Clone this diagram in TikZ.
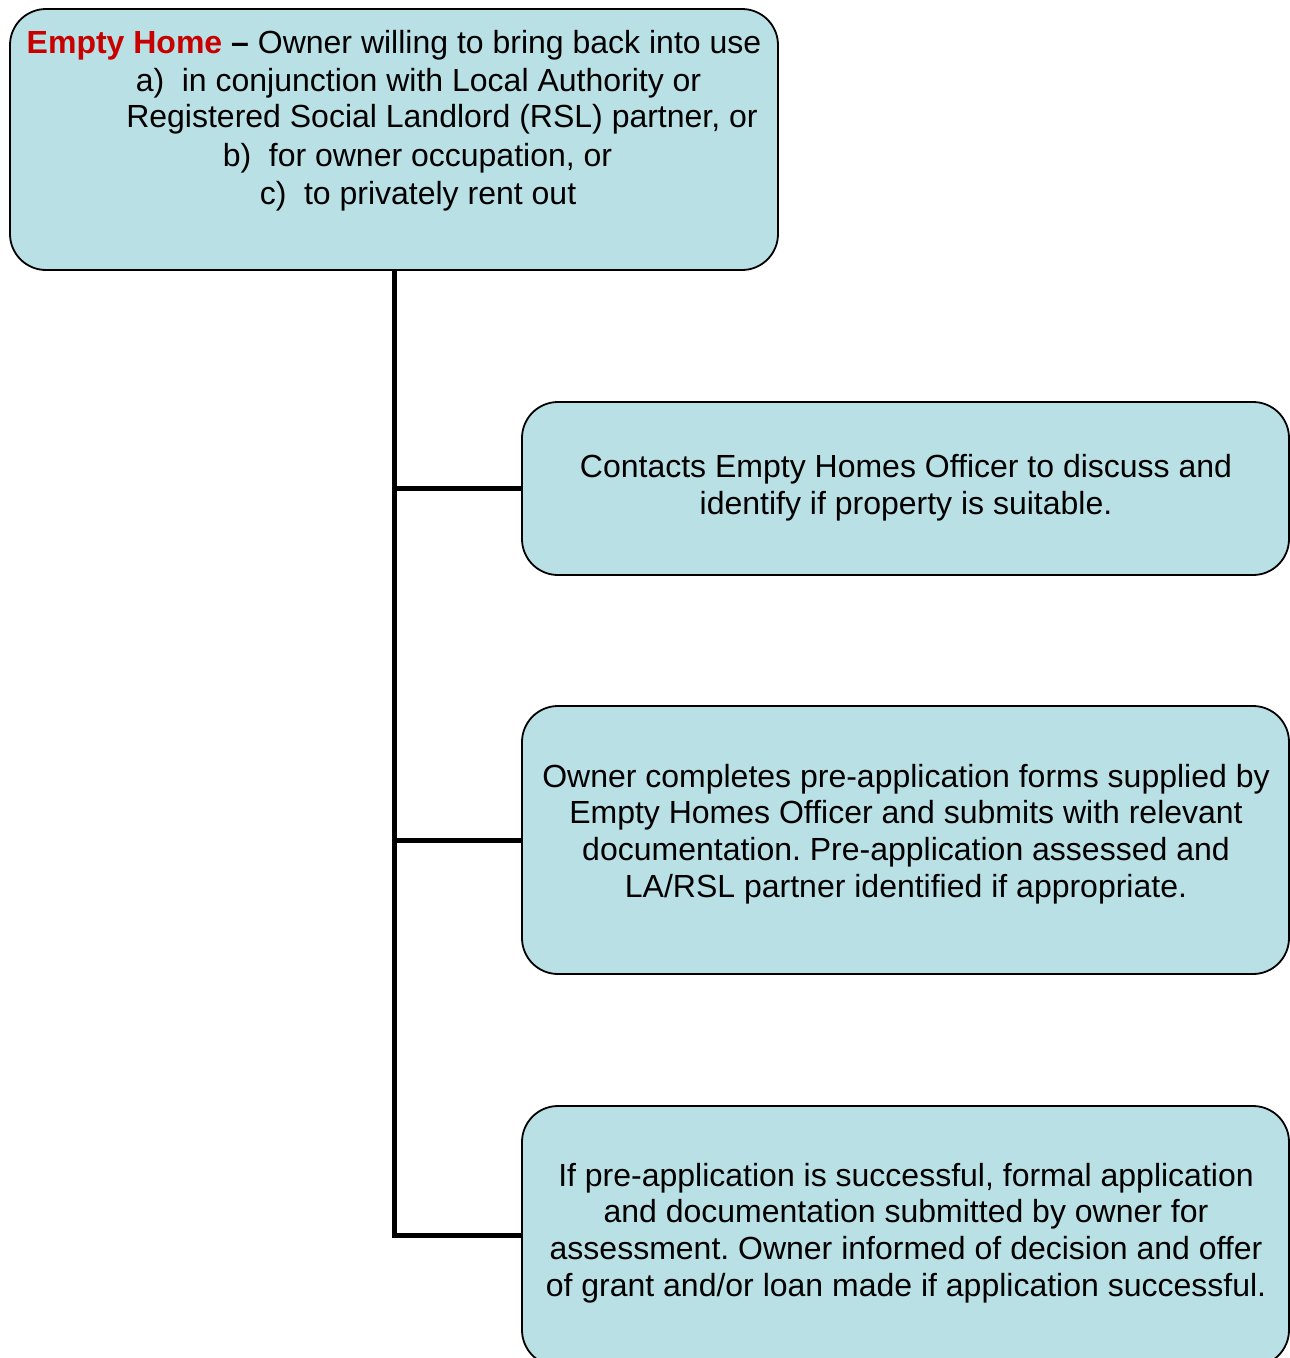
\documentclass[tikz,border=0pt]{standalone}
\usepackage{fontspec}
\setmainfont{Liberation Sans}
\frenchspacing
\definecolor{boxfill}{RGB}{185,224,228}
\definecolor{emred}{RGB}{200,0,0}
\tikzset{
  box/.style={draw=black, line width=1.8pt, fill=boxfill, rounded corners=36pt, inner sep=0pt},
  txt/.style={align=center, inner sep=0pt, font=\fontsize{32}{36.8}\selectfont},
  ln/.style={anchor=base, inner sep=0pt, font=\fontsize{32}{36.8}\selectfont},
  conn/.style={line width=5pt, draw=black}
}
\begin{document}
\begin{tikzpicture}[x=1pt,y=-1pt]
\useasboundingbox (0,0) rectangle (1290,1358);
\node[box, minimum width=768pt, minimum height=261pt] (top) at (394,139.5) {};
\node[box, minimum width=767pt, minimum height=173pt] (b1) at (905.5,488.5) {};
\node[box, minimum width=767pt, minimum height=268pt] (b2) at (905.5,840) {};
\node[box, minimum width=767pt, minimum height=260pt] (b3) at (905.5,1236) {};
% top box text
\node[ln] (l1) at (394,53) {\textcolor{emred}{\textbf{Empty Home}} \textbf{–} Owner willing to bring back into use};
\node[ln] (l2) at (418.5,91) {a)\hspace{0.55em}in conjunction with Local Authority or};
\node[ln] (l3) at (442,127) {Registered Social Landlord (RSL) partner, or};
\node[ln] (l4) at (417.5,166) {b)\hspace{0.55em}for owner occupation, or};
\node[ln] (l5) at (418,204) {c)\hspace{0.55em}to privately rent out};
% box texts
\node[txt] (t1) at (906,487.5) {Contacts Empty Homes Officer to discuss and\\identify if property is suitable.};
\node[txt] (t2) at (906,834) {Owner completes pre-application forms supplied by\\Empty Homes Officer and submits with relevant\\documentation. Pre-application assessed and\\LA/RSL partner identified if appropriate.};
\node[txt] (t3) at (906,1233) {If pre-application is successful, formal application\\and documentation submitted by owner for\\assessment. Owner informed of decision and offer\\of grant and/or loan made if application successful.};
% connectors
\coordinate (j3) at (top.south |- 0,1235);
\coordinate (e3) at (b3.west |- 0,1235);
\draw[conn] (top.south) -- (j3) -- (e3);
\draw[conn] (top.south |- b1.west) -- (b1.west);
\draw[conn] (top.south |- b2.west) -- (b2.west);
\end{tikzpicture}
\end{document}
